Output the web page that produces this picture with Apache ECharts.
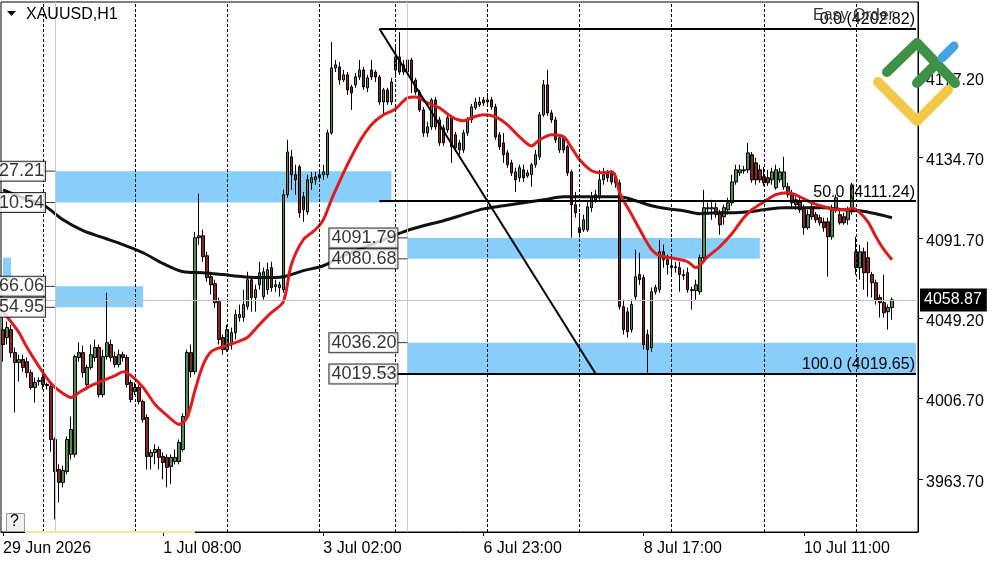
<!DOCTYPE html>
<html><head><meta charset="utf-8">
<script src="https://cdn.jsdelivr.net/npm/echarts@6/dist/echarts.min.js"></script>
<style>html,body{margin:0;padding:0;background:#fff}#c{width:1000px;height:562px}</style>
</head><body><div id="c"></div>
<script>
// ---------- data ----------
const tickLabels = ['29 Jun 2026','1 Jul 08:00','3 Jul 02:00','6 Jul 23:00','8 Jul 17:00','10 Jul 11:00'];
const tickBars = [0,40,80,120,160,200];
const daySeparators = [10,33,56,79,98,121,144,167,190,213];
const markerBars = [13,101];
const priceTicks = [4177.20,4134.70,4091.70,4049.20,4006.70,3963.70];
const bidPrice = 4058.87;
// [open, close, low, high]
const candles = [
[4043.1,4035.2,4026.1,4049.5],[4038.9,4044.2,4035.2,4047.3],[4043.1,4030.9,4028.3,4045.7],[4030.9,4025.6,3999.1,4033.6],
[4025.6,4027.2,4015.5,4029.8],[4027.2,4023.0,4020.8,4029.8],[4026.1,4020.3,4017.7,4028.3],[4020.3,4012.4,4011.3,4021.9],
[4012.4,4015.0,4004.4,4017.7],[4015.5,4016.1,4013.4,4017.7],[4017.7,4014.0,4011.3,4019.8],[4014.0,4013.4,4011.3,4015.0],
[4012.9,3984.8,3978.4,4014.0],[3984.8,3967.8,3942.4,3985.9],[3968.9,3962.0,3951.4,3971.6],[3962.0,3968.4,3959.4,3971.0],
[3967.8,3984.8,3966.3,3986.4],[3976.9,3990.1,3974.2,3997.0],[3976.9,4028.8,3975.3,4029.8],[4028.3,4030.9,4026.1,4036.2],
[4030.9,4020.3,4017.7,4034.6],[4014.0,4023.0,4011.3,4024.5],[4023.0,4029.8,4021.9,4035.2],[4028.3,4033.6,4026.1,4037.8],
[4033.6,4008.6,4007.1,4035.2],[4008.6,4028.8,4007.1,4032.5],[4028.8,4036.2,4027.2,4062.7],[4035.2,4028.3,4026.1,4037.8],
[4028.8,4024.6,4023.0,4031.4],[4024.6,4029.8,4023.0,4032.5],[4029.8,4028.3,4026.1,4031.4],[4028.3,4014.0,4012.4,4029.8],
[4015.0,4006.0,4004.4,4016.6],[4010.2,4012.4,4008.6,4015.0],[4012.4,4004.9,4003.4,4014.0],[4004.9,3995.4,3993.8,4006.0],
[3996.5,3975.8,3968.9,3998.1],[3975.8,3977.9,3968.9,3979.5],[3977.9,3979.5,3971.6,3982.2],[3979.5,3975.3,3968.9,3981.1],
[3975.8,3972.6,3963.6,3977.9],[3975.3,3970.0,3959.4,3976.9],[3970.5,3975.3,3961.0,3976.9],[3973.1,3975.3,3971.6,3979.5],
[3973.1,3983.2,3971.6,3984.8],[3979.5,3997.0,3978.4,3998.6],[3997.0,4030.9,3995.4,4032.5],[4030.9,4020.8,4017.7,4035.2],
[4020.8,4091.9,4019.3,4095.0],[4091.9,4092.9,4088.2,4115.2],[4092.9,4081.8,4079.1,4096.1],[4082.3,4070.7,4068.5,4084.4],
[4071.2,4066.9,4061.7,4073.8],[4067.5,4057.4,4054.8,4069.6],[4057.9,4037.8,4035.2,4060.1],[4038.9,4032.5,4029.8,4040.5],
[4032.5,4043.1,4031.4,4045.7],[4035.2,4041.5,4032.5,4044.2],[4041.5,4051.1,4037.8,4053.7],[4049.5,4051.1,4047.3,4056.4],
[4049.5,4056.4,4047.3,4064.3],[4055.3,4069.6,4053.7,4073.8],[4069.6,4060.1,4052.6,4071.2],[4060.1,4064.3,4052.6,4066.9],
[4066.9,4073.3,4064.3,4079.1],[4060.6,4073.8,4059.0,4076.0],[4064.3,4074.9,4061.7,4078.6],[4076.0,4065.4,4063.2,4079.1],
[4065.9,4066.9,4063.2,4069.6],[4065.4,4066.9,4060.6,4068.5],[4064.3,4114.7,4062.7,4117.3],[4114.7,4137.4,4113.1,4143.8],
[4134.8,4125.3,4117.3,4138.5],[4125.3,4122.6,4114.7,4130.6],[4129.5,4105.1,4102.5,4130.6],[4113.6,4106.7,4100.3,4116.2],
[4105.6,4122.6,4104.1,4125.3],[4121.0,4123.7,4117.3,4126.8],[4122.6,4124.2,4120.0,4126.8],[4123.7,4125.3,4121.5,4127.9],
[4125.3,4126.8,4122.6,4130.6],[4125.3,4147.5,4123.7,4149.1],[4147.5,4182.0,4146.5,4195.7],[4182.0,4183.6,4179.8,4186.2],
[4182.5,4175.6,4173.0,4185.1],[4175.6,4178.3,4174.5,4180.9],[4178.3,4170.3,4167.7,4179.8],[4171.9,4168.7,4159.7,4173.0],
[4173.0,4177.2,4171.4,4179.3],[4177.2,4180.9,4175.6,4186.2],[4180.9,4171.9,4170.3,4182.5],[4171.4,4176.7,4169.2,4178.3],
[4180.9,4177.2,4175.6,4186.2],[4179.8,4177.2,4174.5,4180.9],[4177.2,4163.9,4162.4,4178.3],[4163.9,4170.3,4157.1,4171.4],
[4170.3,4163.9,4162.4,4171.4],[4163.9,4174.5,4162.4,4176.7],[4180.9,4187.8,4176.7,4194.2],[4187.8,4179.8,4178.3,4201.0],
[4183.6,4179.8,4178.3,4186.2],[4179.8,4186.2,4178.3,4202.1],[4186.2,4175.6,4168.7,4187.3],[4175.6,4169.2,4167.7,4176.7],
[4169.2,4159.7,4158.6,4170.3],[4159.7,4147.5,4145.4,4161.3],[4147.5,4150.7,4145.4,4153.3],[4150.7,4165.0,4149.1,4166.1],
[4165.0,4150.7,4149.1,4166.6],[4154.4,4142.2,4140.6,4156.0],[4150.2,4142.2,4140.6,4151.8],[4149.1,4155.5,4147.5,4157.1],
[4155.5,4140.1,4131.6,4157.1],[4146.5,4139.6,4137.4,4148.0],[4142.2,4138.5,4135.9,4143.8],[4138.5,4147.5,4136.9,4149.1],
[4147.5,4154.4,4145.9,4156.0],[4154.4,4161.3,4152.8,4162.9],[4160.8,4163.9,4159.7,4166.1],[4162.4,4163.9,4161.3,4166.6],
[4165.0,4163.4,4161.8,4166.6],[4163.9,4165.0,4162.9,4168.7],[4165.0,4161.3,4159.7,4166.6],[4161.3,4145.4,4143.8,4162.9],
[4146.5,4140.1,4138.5,4148.0],[4142.2,4135.9,4131.6,4147.5],[4136.9,4130.6,4129.0,4138.5],[4131.6,4126.3,4124.7,4133.2],
[4126.8,4122.6,4116.2,4129.0],[4123.7,4129.0,4121.5,4130.6],[4127.9,4123.7,4121.5,4130.6],[4124.7,4126.3,4123.7,4127.9],
[4125.3,4130.6,4118.9,4131.6],[4130.6,4135.9,4129.0,4138.5],[4134.8,4157.1,4133.2,4158.6],[4157.1,4173.0,4156.0,4175.6],
[4173.0,4158.1,4156.5,4180.9],[4158.1,4154.4,4152.8,4159.7],[4154.4,4143.8,4142.2,4156.0],[4138.5,4144.9,4136.9,4146.5],
[4144.9,4138.5,4136.9,4145.9],[4140.1,4126.3,4124.7,4141.2],[4126.8,4109.4,4091.9,4127.9],[4109.4,4105.1,4102.5,4116.2],
[4094.5,4097.2,4091.9,4105.1],[4096.1,4101.4,4095.0,4104.1],[4096.1,4108.3,4095.0,4112.0],[4107.8,4113.6,4105.6,4116.2],
[4112.0,4114.7,4110.4,4117.3],[4113.6,4122.6,4112.0,4127.9],[4122.6,4125.3,4120.0,4129.0],[4125.8,4123.7,4121.5,4127.9],
[4125.8,4121.5,4120.0,4127.9],[4124.2,4121.0,4118.4,4126.3],[4121.0,4055.3,4053.7,4122.6],[4055.3,4043.1,4040.5,4059.0],
[4052.6,4042.0,4038.9,4054.8],[4043.1,4056.4,4041.5,4059.0],[4060.6,4071.2,4059.0,4085.5],[4072.3,4069.6,4066.9,4083.9],
[4070.7,4035.2,4032.5,4072.3],[4040.5,4032.5,4020.3,4043.1],[4033.6,4063.2,4031.4,4065.4],[4063.2,4065.4,4061.7,4066.9],
[4064.3,4084.4,4062.7,4090.8],[4084.4,4080.2,4076.0,4088.2],[4080.2,4077.6,4072.3,4082.9],[4077.0,4076.0,4072.3,4079.1],
[4076.0,4076.5,4073.3,4079.1],[4076.0,4072.3,4063.2,4079.1],[4072.3,4071.7,4069.6,4074.9],[4073.3,4064.3,4062.7,4076.0],
[4064.3,4063.8,4053.7,4065.9],[4063.8,4066.9,4059.0,4069.6],[4063.2,4081.3,4061.7,4082.9],[4081.3,4107.8,4080.2,4117.3],
[4107.8,4107.2,4104.1,4110.4],[4107.2,4107.8,4101.4,4112.0],[4107.8,4104.1,4102.5,4110.4],[4105.1,4098.8,4093.5,4106.7],
[4103.0,4107.8,4098.8,4109.4],[4106.7,4110.4,4104.1,4113.1],[4110.4,4121.5,4108.8,4125.3],[4121.5,4127.9,4120.0,4130.6],
[4126.3,4127.9,4124.7,4130.6],[4127.4,4127.9,4125.8,4130.0],[4127.9,4136.9,4126.3,4142.2],[4135.9,4122.6,4121.0,4137.4],
[4131.6,4122.6,4120.0,4134.3],[4127.9,4122.6,4121.0,4130.6],[4124.2,4121.0,4119.4,4129.5],[4123.7,4121.0,4119.4,4127.9],
[4122.6,4126.8,4120.0,4129.0],[4118.4,4127.9,4117.3,4130.6],[4122.6,4126.8,4121.0,4129.0],[4118.9,4126.8,4117.3,4134.8],
[4118.9,4114.7,4113.1,4121.0],[4114.7,4110.4,4108.3,4117.3],[4112.0,4109.4,4106.7,4113.6],[4110.9,4106.7,4105.1,4113.1],
[4107.8,4097.2,4093.5,4109.4],[4097.2,4104.1,4096.1,4106.7],[4108.3,4103.0,4101.4,4110.4],[4104.1,4101.4,4099.8,4105.6],
[4102.5,4099.8,4098.2,4104.1],[4100.3,4097.2,4095.0,4102.5],[4100.3,4092.4,4071.2,4102.5],[4092.4,4106.7,4090.8,4109.4],
[4106.7,4113.1,4105.1,4114.7],[4104.1,4099.8,4098.8,4106.7],[4103.0,4099.8,4098.8,4105.1],[4101.4,4106.7,4098.8,4108.3],
[4105.6,4119.9,4104.1,4121.0],[4084.4,4076.0,4072.3,4092.4],[4076.0,4084.4,4069.6,4088.2],[4084.4,4073.3,4064.3,4086.6],
[4081.3,4073.3,4060.6,4089.7],[4072.3,4068.0,4060.1,4073.8],[4068.0,4059.0,4056.4,4069.6],[4060.1,4057.4,4049.5,4061.7],
[4057.4,4052.1,4049.5,4072.3],[4052.6,4054.8,4043.1,4056.4],[4054.8,4058.9,4048.4,4060.1]
];
// moving averages: [bar, value]
const maRed = [[0,4052.6],[2,4047.3],[4,4041.5],[6,4033.6],[9,4023.5],[12,4014.5],[15,4009.2],[17,4007.1],[19,4009.7],[22,4013.4],[25,4016.1],[28,4018.7],[30,4020.8],[32,4018.7],[35,4012.4],[38,4003.4],[41,3997.5],[44,3992.8],[46,3996.5],[48,4011.3],[50,4024.5],[52,4031.4],[55,4034.1],[58,4036.2],[61,4038.9],[64,4045.7],[67,4052.1],[70,4057.9],[72,4077.5],[75,4090.8],[78,4096.1],[80,4101.4],[82,4112.0],[84,4121.5],[86,4130.6],[89,4142.7],[92,4151.8],[95,4157.1],[98,4160.2],[101,4166.1],[103,4166.6],[106,4163.4],[109,4160.8],[112,4156.0],[115,4153.9],[117,4155.5],[120,4157.1],[123,4156.0],[126,4151.8],[129,4145.4],[132,4140.6],[134,4143.8],[137,4146.5],[140,4145.4],[142,4139.6],[144,4133.2],[147,4127.4],[150,4126.3],[152,4126.8],[153,4124.2],[154,4115.7],[157,4104.1],[160,4092.4],[162,4085.5],[164,4082.3],[168,4080.7],[171,4079.1],[173,4076.0],[176,4081.8],[179,4087.1],[182,4094.0],[185,4102.5],[187,4106.7],[190,4110.9],[193,4114.7],[196,4115.7],[199,4113.6],[202,4110.4],[205,4108.3],[208,4106.7],[211,4106.7],[212,4107.8],[214,4105.1],[216,4100.3],[218,4092.4],[220,4085.5],[222,4080.2]];
const maBlack = [[0,4117.3],[5,4113.1],[10,4109.4],[15,4101.4],[20,4095.6],[25,4091.9],[30,4088.2],[35,4083.9],[40,4078.1],[45,4073.8],[50,4073.3],[55,4072.3],[60,4071.2],[65,4070.7],[70,4071.2],[75,4074.4],[80,4077.0],[85,4082.3],[90,4086.6],[95,4090.8],[100,4095.0],[105,4098.2],[110,4100.9],[115,4104.1],[120,4107.2],[125,4108.8],[130,4110.4],[135,4112.0],[140,4113.6],[145,4113.6],[150,4113.6],[154,4113.6],[158,4111.5],[162,4108.8],[166,4107.2],[170,4106.2],[174,4104.6],[178,4105.1],[182,4105.1],[186,4105.6],[190,4106.7],[195,4107.8],[200,4107.8],[205,4107.8],[210,4106.7],[214,4106.2],[218,4104.6],[222,4102.5]];
// rectangles (zones)
const zoneStart = [13, 0, 13, 101, 101];
const zoneEnd = [97, 2, 35, 189, 228];
const zoneLow = [4110.54, 4069.6, 4054.95, 4080.68, 4019.53];
const zoneHigh = [4127.21, 4081.3, 4066.06, 4091.79, 4036.20];
const zoneLabeled = [true, false, true, true, true];
// fibonacci
const fibStartBar = 94, fibEndBar = 148;
const fibLevels = [0.0, 50.0, 100.0];
const fibPrices = [4202.82, 4111.24, 4019.65];

// ---------- chart ----------
const N = 229;
const FONT = 'Liberation Sans';
const cats = Array.from({length: N}, (_, i) => String(i));
const isTick = (i) => tickBars.indexOf(i) >= 0;

const zoneAreas = zoneStart.map((s, k) => [{xAxis: s, yAxis: zoneHigh[k]}, {xAxis: zoneEnd[k], yAxis: zoneLow[k]}]);
const boxLabels = [];
zoneStart.forEach((s, k) => { if (zoneLabeled[k]) { boxLabels.push([s, zoneHigh[k]]); boxLabels.push([s, zoneLow[k]]); } });

const fibLines = [[{coord: [fibStartBar, fibPrices[0]]}, {coord: [fibEndBar, fibPrices[2]]}]];
fibPrices.forEach((p, k) => {
  fibLines.push([{coord: [fibStartBar, p], label: {show: true, position: 'insideEndTop', distance: 1,
    formatter: fibLevels[k].toFixed(1) + ' (' + p.toFixed(2) + ')', color: '#000', fontSize: 16, fontFamily: FONT}},
    {coord: [N - 1, p]}]);
});

const chart = echarts.init(document.getElementById('c'));
chart.setOption({
  animation: false,
  backgroundColor: '#fff',
  textStyle: {fontFamily: FONT},
  grid: {left: 1, right: 82, top: 2, bottom: 30, show: true, borderColor: '#000', borderWidth: 1},
  xAxis: {
    type: 'category', data: cats, boundaryGap: true,
    axisLine: {lineStyle: {color: '#000', width: 1}},
    axisTick: {show: true, alignWithLabel: true, interval: (i) => isTick(i), length: 4, lineStyle: {color: '#000'}},
    axisLabel: {interval: (i) => isTick(i), formatter: (v, i) => tickLabels[tickBars.indexOf(Number(v))] || '',
      align: 'left', color: '#000', fontSize: 16, fontFamily: FONT, margin: 9},
    splitLine: {show: false}
  },
  yAxis: {
    type: 'value', position: 'right', min: 3935.7, max: 4216.97,
    splitLine: {show: false},
    axisLine: {show: true, lineStyle: {color: '#000'}},
    axisTick: {show: true, customValues: priceTicks, length: 5, lineStyle: {color: '#000'}},
    axisLabel: {customValues: priceTicks, formatter: (v) => Number(v).toFixed(2), color: '#000', fontSize: 16, fontFamily: FONT, margin: 8,
      verticalAlign: 'top', lineHeight: 7}
  },
  series: [
    { // zones
      type: 'line', data: [], z: 1, silent: true,
      markArea: {silent: true, itemStyle: {color: '#87cefa'}, data: zoneAreas}
    },
    { // separators & marker lines
      type: 'line', data: [], z: 1, silent: true,
      markLine: {silent: true, symbol: ['none', 'none'], label: {show: false}, animation: false,
        data: daySeparators.map((b) => ({xAxis: b, lineStyle: {color: '#000', type: [3, 2], width: 1}}))
          .concat(markerBars.map((b) => ({xAxis: b, lineStyle: {color: '#c8c8c8', type: 'solid', width: 1}})))}
    },
    {
      type: 'candlestick', data: candles, barWidth: 3, z: 3,
      itemStyle: {color: '#4a9150', color0: '#8b2323', borderColor: '#000', borderColor0: '#000', borderWidth: 1}
    },
    {type: 'line', data: maBlack, smooth: 0.3, showSymbol: false, z: 4, lineStyle: {color: '#111', width: 3}},
    {type: 'line', data: maRed, smooth: 0.3, showSymbol: false, z: 4, lineStyle: {color: '#e01b1b', width: 3}},
    { // bid line
      type: 'line', data: [], z: 2,
      markLine: {silent: true, symbol: ['none', 'none'],
        data: [{yAxis: bidPrice, lineStyle: {color: '#c0c0c0', width: 1, type: 'solid'},
          label: {show: true, position: 'end', distance: 2, formatter: bidPrice.toFixed(2), color: '#fff',
            backgroundColor: '#000', padding: [4, 5, 3, 4], fontSize: 16, fontFamily: FONT}}]}
    },
    { // fibonacci
      type: 'line', data: [], z: 5,
      markLine: {silent: true, symbol: ['none', 'none'], lineStyle: {color: '#000', width: 2, type: 'solid'},
        label: {show: false}, data: fibLines}
    },
    { // price labels of rectangles
      type: 'scatter', data: boxLabels, z: 6, symbol: 'rect', symbolSize: [10, 1], symbolOffset: [-5, 0],
      itemStyle: {color: '#000'}, silent: true,
      label: {show: true, position: 'left', distance: 0, formatter: (p) => p.value[1].toFixed(2),
        color: '#000', fontSize: 18, fontFamily: FONT, backgroundColor: '#fff', borderColor: '#000', borderWidth: 1,
        padding: [1, 1, 0, 2], lineHeight: 18}
    }
  ],
  graphic: [
    {type: 'polygon', shape: {points: [[7, 11], [16, 11], [11.5, 16]]}, style: {fill: '#000'}, z: 10},
    {type: 'text', left: 26, top: 7, style: {text: 'XAUUSD,H1', fill: '#000', font: '16px "Liberation Sans"'}, z: 10},
    {type: 'text', left: 813, top: 8, style: {text: 'Easy Order', fill: '#333', font: '16px "Liberation Sans"'}, z: 10},
    {type: 'polyline', shape: {points: [[878, 82], [917, 121], [948, 90]]}, style: {stroke: '#f3c94a', lineWidth: 10, lineCap: 'round', lineJoin: 'round', fill: null}, z: 20},
    {type: 'polyline', shape: {points: [[887, 72], [917, 43], [955, 83]]}, style: {stroke: '#3e9147', lineWidth: 10, lineCap: 'round', lineJoin: 'round', fill: null}, z: 21},
    {type: 'line', shape: {x1: 917, y1: 83, x2: 936, y2: 64}, style: {stroke: '#3e9147', lineWidth: 10, lineCap: 'round'}, z: 21},
    {type: 'line', shape: {x1: 942, y1: 58, x2: 954, y2: 46}, style: {stroke: '#45a3e0', lineWidth: 9, lineCap: 'round'}, z: 21},
    {type: 'rect', shape: {x: 6.5, y: 513.5, width: 18, height: 18}, style: {fill: '#f0f0f0', stroke: '#999', lineWidth: 1}, z: 10},
    {type: 'text', left: 10, top: 514, style: {text: '?', fill: '#000', font: '16px "Liberation Sans"'}, z: 11},
    {type: 'line', shape: {x1: 25, y1: 532, x2: 195, y2: 532}, style: {stroke: '#f3e6a6', lineWidth: 2}, z: 10}
  ]
});
</script>
</body></html>
